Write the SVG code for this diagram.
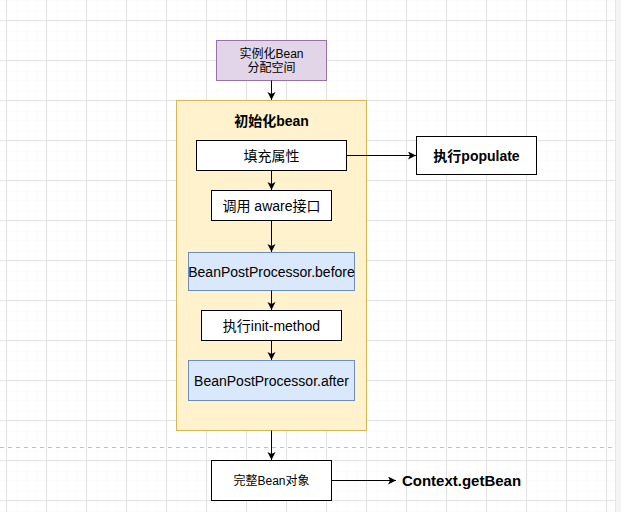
<svg xmlns="http://www.w3.org/2000/svg" width="621" height="512" viewBox="0 0 621 512">
<defs>
<pattern id="minor" patternUnits="userSpaceOnUse" x="6.5" y="0.5" width="10" height="10">
<path d="M0,0 H10 M0,0 V10" fill="none" stroke="#f5f5f5" stroke-width="1"/>
</pattern>
<pattern id="major" patternUnits="userSpaceOnUse" x="6" y="20" width="40" height="40">
<path d="M0.5,0 V40 M0,0.5 H40" fill="none" stroke="#e3e3e3" stroke-width="1"/>
</pattern>
<marker id="arr" markerWidth="10" markerHeight="10" refX="8" refY="4" orient="auto" markerUnits="userSpaceOnUse">
<path d="M0,0 L8,4 L0,8 L2,4 Z" fill="#000"/>
</marker>
</defs>
<style>
.t{font-family:"Liberation Sans",Arial,"Noto Sans CJK SC",sans-serif;fill:#000;text-anchor:middle}
.s12{font-size:12px}.s14{font-size:14px}.b{font-weight:bold}
.box{fill:#fff;stroke:#000;stroke-width:1}
.blue{fill:#dae8fc;stroke:#6c8ebf;stroke-width:1}
.c{fill:none;stroke:#000;stroke-width:1;marker-end:url(#arr)}
</style>
<rect x="0" y="0" width="621" height="512" fill="#fff"/>
<rect x="0" y="0" width="616" height="512" fill="url(#minor)"/>
<rect x="0" y="0" width="616" height="512" fill="url(#major)"/>
<rect x="616" y="0" width="5" height="512" fill="#f4f4f4"/>
<line x1="615.5" y1="0" x2="615.5" y2="512" stroke="#e6e6e6"/>
<line x1="0" y1="447.5" x2="614" y2="447.5" stroke="#c0c0c0" stroke-dasharray="4 4"/>

<g id="alloc">
<rect x="216.5" y="40.5" width="110" height="40" fill="#e1d5e7" stroke="#9673a6"/>
<text class="t s12" x="271.5" y="58">实例化Bean</text>
<text class="t s12" x="271.5" y="72">分配空间</text>
</g>
<g id="init">
<rect x="176.5" y="100.5" width="190" height="330" fill="#fff2cc" stroke="#d6b656"/>
<text class="t s14 b" x="271.5" y="126">初始化bean</text>
</g>
<g id="fill">
<rect class="box" x="196.5" y="140.5" width="150" height="30"/>
<text class="t s14" x="271.5" y="160.5">填充属性</text>
</g>
<g id="populate">
<rect class="box" x="416.5" y="136.5" width="120" height="38"/>
<text class="t s14 b" x="476.5" y="160.5">执行populate</text>
</g>
<g id="aware">
<rect class="box" x="211.5" y="190.5" width="120" height="30"/>
<text class="t s14" x="271.5" y="210.5">调用 aware接口</text>
</g>
<g id="before">
<rect class="blue" x="188.5" y="252.5" width="166" height="38"/>
<text class="t s14" x="271.5" y="276.5">BeanPostProcessor.before</text>
</g>
<g id="initmethod">
<rect class="box" x="201.5" y="310.5" width="140" height="30"/>
<text class="t s14" x="271.5" y="330.5">执行init-method</text>
</g>
<g id="after">
<rect class="blue" x="188.5" y="360.5" width="166" height="40"/>
<text class="t s14" x="271.5" y="385.5">BeanPostProcessor.after</text>
</g>
<g id="full">
<rect class="box" x="211.5" y="460.5" width="120" height="40"/>
<text class="t s12" x="271.5" y="484.5">完整Bean对象</text>
</g>
<g id="getbean">
<text class="t b" style="font-size:15px" x="461.5" y="486">Context.getBean</text>
</g>
<g id="connectors">
<path class="c" d="M271.5,80.5 V100"/>
<path class="c" d="M271.5,170.5 V190"/>
<path class="c" d="M271.5,220.5 V252"/>
<path class="c" d="M271.5,290.5 V310"/>
<path class="c" d="M271.5,340.5 V360"/>
<path class="c" d="M271.5,430.5 V460"/>
<path class="c" d="M346.5,155.5 H416"/>
<path class="c" d="M331.5,480.5 H396"/>
</g>
</svg>
